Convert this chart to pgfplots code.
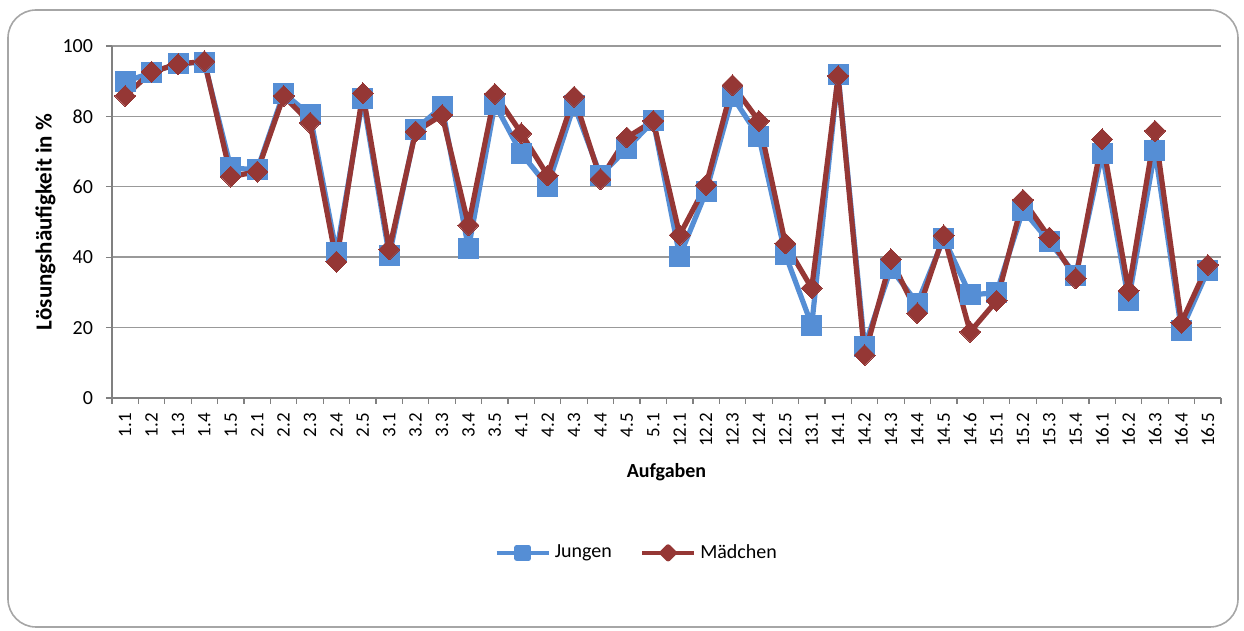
\documentclass[border=0pt]{standalone}
\usepackage{pgfplots}
\pgfplotsset{compat=1.18}
\usepackage{pgfplotstable}
\usepackage{fontspec}
\setmainfont{Carlito}
\definecolor{jblue}{RGB}{85,142,213}
\definecolor{mred}{RGB}{149,55,53}
\pgfplotstableread{
x J M
0 89.9 85.8
1 92.4 92.7
2 95.1 94.8
3 95.3 95.7
4 65.4 62.9
5 64.8 64.3
6 86.6 85.8
7 80.4 78.2
8 41.3 38.7
9 85.1 86.6
10 40.4 42.2
11 76.3 75.7
12 82.8 80.4
13 42.5 49.1
14 83.5 86.4
15 69.5 75.2
16 60.2 63.2
17 83.2 85.6
18 63.2 62.2
19 70.9 74.0
20 78.7 78.7
21 40.3 46.3
22 58.6 60.5
23 85.6 88.9
24 74.2 78.7
25 40.8 43.9
26 20.7 31.2
27 91.9 91.5
28 14.6 12.2
29 36.8 39.4
30 26.9 24.1
31 45.4 46.2
32 29.3 18.8
33 29.9 27.6
34 53.4 56.3
35 44.4 45.6
36 34.9 34.0
37 69.5 73.5
38 27.8 30.5
39 70.3 75.9
40 19.3 21.4
41 36.2 37.8
}\data
\begin{document}
\begin{tikzpicture}
\useasboundingbox (-56pt,-116.5pt) rectangle (566pt,199pt);
\draw[gray!70, line width=0.8pt, rounded corners=14pt] (-52pt,-114.5pt) rectangle (563pt,194pt);
\begin{axis}[
  at={(0,0)}, anchor=south west,
  width=554.5pt, height=176pt, scale only axis,
  xmin=-0.5, xmax=41.5, ymin=0, ymax=100,
  axis lines=left,
  axis line style={-, draw=gray, line width=0.8pt},
  xtick={0,...,41},
  xticklabels={1.1,1.2,1.3,1.4,1.5,2.1,2.2,2.3,2.4,2.5,3.1,3.2,3.3,3.4,3.5,4.1,4.2,4.3,4.4,4.5,5.1,12.1,12.2,12.3,12.4,12.5,13.1,14.1,14.2,14.3,14.4,14.5,14.6,15.1,15.2,15.3,15.4,16.1,16.2,16.3,16.4,16.5},
  major x tick style={draw=none},
  minor xtick={-0.5,0.5,...,41.5},
  minor x tick style={draw=gray, line width=0.6pt},
  minor tick length=3pt,
  ytick={0,20,...,100},
  y tick style={draw=gray, line width=0.6pt},
  major tick length=3pt,
  tick align=outside,
  ymajorgrids,
  grid style={draw=gray!80, line width=0.7pt},
  /pgf/number format/assume math mode=true,
  x tick label style={rotate=90, anchor=east, font=\fontsize{9.5}{10}\selectfont},
  xticklabel shift=1pt,
  y tick label style={font=\fontsize{10}{12}\selectfont},
  yticklabel shift=3pt,
  ylabel={\textbf{Lösungshäufigkeit in \%}},
  ylabel style={font=\fontsize{11.5}{14}\selectfont, at={(axis description cs:-0.06,0.5)}, anchor=center},
  xlabel={\textbf{Aufgaben}},
  xlabel style={font=\fontsize{10}{12}\selectfont, at={(axis description cs:0.5,-0.21)}, anchor=center},
  legend style={at={(0.474,-0.44)}, anchor=center, draw=none, fill=none,
    legend columns=2, font=\fontsize{10}{12}\selectfont,
    /tikz/every even column/.append style={column sep=12pt}},
  legend cell align=left,
  clip=false,
]
\addplot[jblue, line width=2.6pt, line join=round, mark=square*, mark size=5pt, mark options={solid, fill=jblue, draw=jblue, line width=0pt},
  legend image code/.code={
    \draw[jblue, line width=2.2pt] (0pt,0pt) -- (26pt,0pt);
    \fill[jblue] (10.2pt,-2.8pt) rectangle (15.8pt,2.8pt);
  }] table[x=x, y=J] {\data};
\addlegendentry{Jungen}
\addplot[mred, line width=2.6pt, line join=round, mark=square*, mark size=3.7pt, mark options={solid, fill=mred, draw=mred, line width=0pt, rotate=45},
  legend image code/.code={
    \draw[mred, line width=2.2pt] (0pt,0pt) -- (26pt,0pt);
    \fill[mred] (13pt,-3pt) -- (16pt,0pt) -- (13pt,3pt) -- (10pt,0pt) -- cycle;
  }] table[x=x, y=M] {\data};
\addlegendentry{Mädchen}
\end{axis}
\end{tikzpicture}
\end{document}
